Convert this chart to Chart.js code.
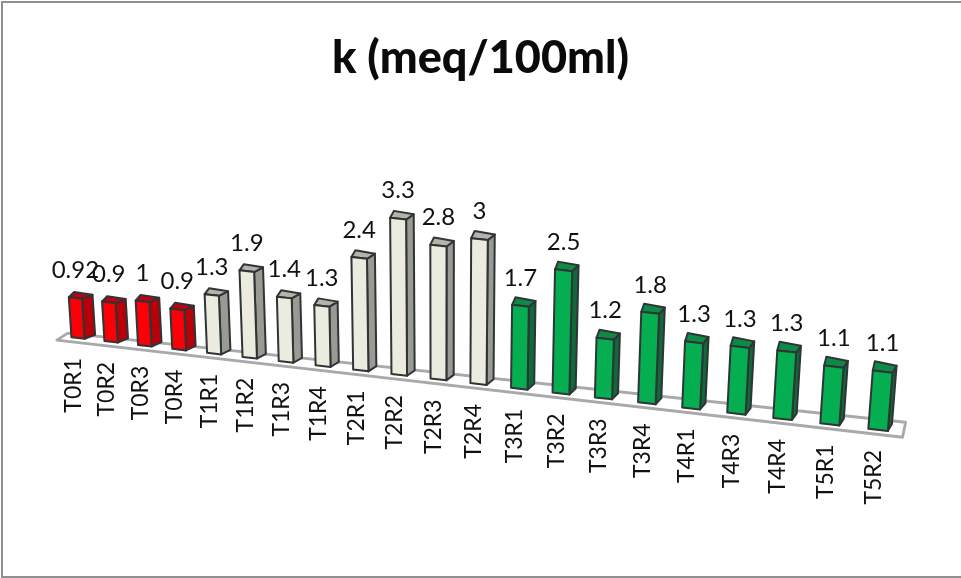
<!DOCTYPE html>
<html>
<head>
<meta charset="utf-8">
<style>
  html, body { margin: 0; padding: 0; background: #fff; overflow: hidden; }
  #frame { position: absolute; left: 1px; top: 1px; width: 970px; height: 577px; border: 2px solid #8f8f8f; box-sizing: border-box; }
  canvas { position: absolute; left: 0; top: 0; }
</style>
<script src="https://cdn.jsdelivr.net/npm/chart.js@4/dist/chart.umd.js"></script>
</head>
<body>
<div id="frame"></div>
<canvas id="chart" width="961" height="578"></canvas>
<script>
const categories = ["T0R1","T0R2","T0R3","T0R4","T1R1","T1R2","T1R3","T1R4","T2R1","T2R2","T2R3","T2R4",
                    "T3R1","T3R2","T3R3","T3R4","T4R1","T4R3","T4R4","T5R1","T5R2"];
const values = [0.92,0.9,1,0.9,1.3,1.9,1.4,1.3,2.4,3.3,2.8,3,1.7,2.5,1.2,1.8,1.3,1.3,1.3,1.1,1.1];

// Face colours per treatment: front, side, top
const redFaces   = ["#fb0006", "#b80008", "#c00010"];
const stoneFaces = ["#ecebdf", "#9a9a94", "#b4b4aa"];
const greenFaces = ["#05ae50", "#0f6a3a", "#0d8a45"];
const facesFor = label => {
  const t = label[1];
  if (t === "0") return redFaces;
  if (t === "1" || t === "2") return stoneFaces;
  return greenFaces;
};

// Perspective of the receding bar plane, in category index and value units
const persp = { c: 0.009, x0: 78, dx: 32.1, y0: 338, slope: 0.1149, unit: 43.5, vanishX: 440, lean: 1 / 5600 };

// Each bar keeps one height scale across its width, taken at its own centre
function plane(i, v, centre = i) {
  const d = 1 - persp.c * i;
  const bx = (persp.x0 + persp.dx * i) / d;
  const by = persp.y0 + (bx - persp.x0) * persp.slope;
  const h = v * persp.unit / (1 - persp.c * centre);
  return { x: bx + (bx - persp.vanishX) * persp.lean * h, y: by - h };
}
const depthAt = i => ({ x: 10.5 - 0.32 * i, y: -4 - 0.15 * i });

function flatToPlane(chart, px, py, centre) {
  const xs = chart.scales.x, ys = chart.scales.y;
  const p0 = xs.getPixelForValue(0), step = xs.getPixelForValue(1) - p0;
  return plane((px - p0) / step, ys.getValueForPixel(py), centre);
}

function quad(ctx, pts, fill, stroke, width) {
  ctx.beginPath();
  pts.forEach((p, k) => k ? ctx.lineTo(p.x, p.y) : ctx.moveTo(p.x, p.y));
  ctx.closePath();
  ctx.fillStyle = fill;
  ctx.fill();
  ctx.lineJoin = "round";
  ctx.strokeStyle = stroke;
  ctx.lineWidth = width;
  ctx.stroke();
}

function drawBar3D(ctx) {
  const chart = this.$chartRef;
  const k = this.$index;
  const faces = facesFor(categories[k]);
  const hw = this.width / 2;
  const fl = flatToPlane(chart, this.x - hw, this.base, k);
  const fr = flatToPlane(chart, this.x + hw, this.base, k);
  const tl = flatToPlane(chart, this.x - hw, this.y, k);
  const tr = flatToPlane(chart, this.x + hw, this.y, k);
  const d = depthAt(k);
  const shift = (p, kx, ky) => ({ x: p.x + d.x * kx, y: p.y + d.y * ky });
  const edge = "#2f3436";
  quad(ctx, [fr, tr, shift(tr, 1, 1), shift(fr, 1, 1)], faces[1], edge, 2);
  quad(ctx, [tl, tr, shift(tr, 1, 1), shift(tl, 0.5, 1.3)], faces[2], edge, 2);
  quad(ctx, [fl, tl, tr, fr], faces[0], edge, 2);
}

const scene3D = {
  id: "scene3D",
  afterDatasetsUpdate(chart) {
    chart.getDatasetMeta(0).data.forEach((el, k) => {
      el.$chartRef = chart;
      el.$index = k;
      el.draw = drawBar3D;
    });
  },
  beforeDatasetsDraw(chart) {
    // Floor plate under the bars
    const ctx = chart.ctx;
    const left = plane(-0.65, 0), right = plane(20.5, 0);
    const pts = [
      { x: left.x, y: left.y + 4.5 },
      { x: right.x, y: right.y + 4.5 },
      { x: right.x + 3, y: right.y - 10.5 },
      { x: left.x + 11, y: left.y - 2.5 }
    ];
    ctx.save();
    ctx.beginPath();
    pts.forEach((p, k) => k ? ctx.lineTo(p.x, p.y) : ctx.moveTo(p.x, p.y));
    ctx.closePath();
    ctx.lineJoin = "round";
    ctx.strokeStyle = "#a9a9a9";
    ctx.lineWidth = 2.8;
    ctx.stroke();
    ctx.restore();
  },
  afterDatasetsDraw(chart) {
    const ctx = chart.ctx;
    ctx.save();
    ctx.fillStyle = "#111";
    const data = chart.data.datasets[0].data;
    // Value labels over each bar
    ctx.font = "24px Lato";
    ctx.textAlign = "center";
    ctx.textBaseline = "middle";
    data.forEach((v, i) => {
      const top = plane(i, v);
      ctx.fillText(String(v), top.x, top.y - 28);
    });
    // Category labels turned upright below the floor
    ctx.font = "23px Lato";
    chart.data.labels.forEach((label, i) => {
      const foot = plane(i, 0);
      ctx.save();
      ctx.translate(foot.x - 4.5, foot.y + 20);
      ctx.rotate(-Math.PI / 2);
      ctx.textAlign = "right";
      ctx.textBaseline = "middle";
      ctx.fillText(label, 0, 0);
      ctx.restore();
    });
    ctx.restore();
  }
};

new Chart(document.getElementById("chart"), {
  type: "bar",
  data: {
    labels: categories,
    datasets: [{
      label: "k (meq/100ml)",
      data: values,
      backgroundColor: categories.map(c => facesFor(c)[0]),
      barPercentage: 0.4,
      categoryPercentage: 1
    }]
  },
  options: {
    responsive: false,
    animation: false,
    events: [],
    layout: { padding: 0 },
    scales: {
      x: { display: false },
      y: { display: false, min: 0, max: 4 }
    },
    plugins: {
      legend: { display: false },
      tooltip: { enabled: false },
      title: {
        display: true,
        text: "k (meq/100ml)",
        color: "#0a0a0a",
        font: { family: "Lato", size: 45, weight: "900" },
        padding: { top: 31, bottom: 10 }
      }
    }
  },
  plugins: [scene3D]
});
</script>
</body>
</html>
